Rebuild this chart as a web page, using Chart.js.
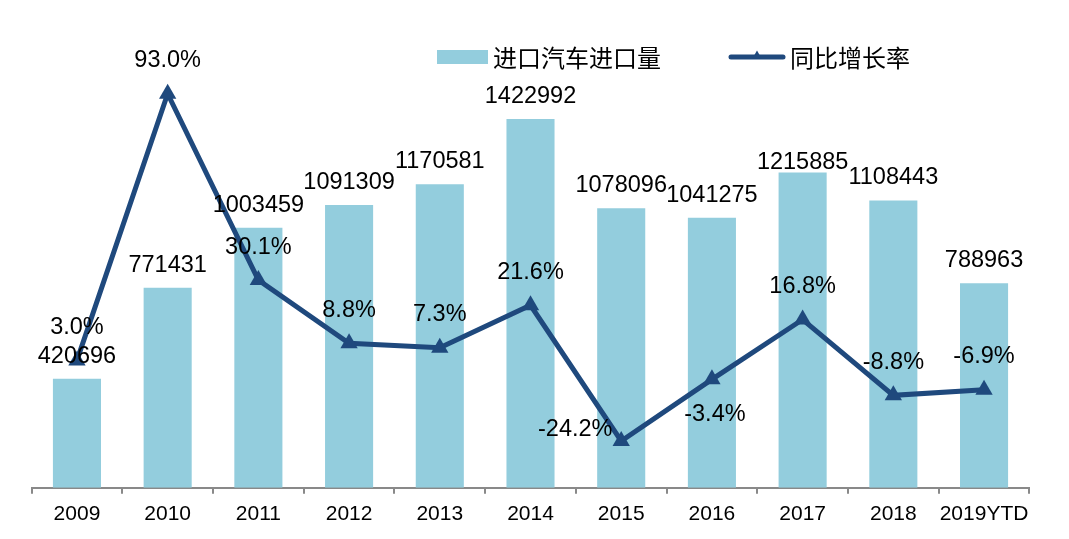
<!DOCTYPE html>
<html><head><meta charset="utf-8">
<script src="https://cdn.jsdelivr.net/npm/chart.js@4/dist/chart.umd.min.js"></script>
<style>html,body{margin:0;padding:0;background:#fff;}</style>
</head><body>
<canvas id="c" width="1069" height="539"></canvas>
<script>
const categories = ['2009','2010','2011','2012','2013','2014','2015','2016','2017','2018','2019YTD'];
const importVolume = [420696, 771431, 1003459, 1091309, 1170581, 1422992, 1078096, 1041275, 1215885, 1108443, 788963];
const yoyGrowth = [3.0, 93.0, 30.1, 8.8, 7.3, 21.6, -24.2, -3.4, 16.8, -8.8, -6.9];
const seriesNames = ['进口汽车进口量', '同比增长率'];

const BAR_COLOR = '#93CDDD';
const LINE_COLOR = '#1F497D';
const LABEL_FONT_SIZE = 23.5;
const LABEL_FONT = LABEL_FONT_SIZE + 'px "Liberation Sans", Arial, sans-serif';
// label placement overrides (by index)
const barLabelDy = {8: -12};
const lineLabelPos = {6: 'left', 7: 'below'};

function drawText(ctx, text, x, cy) {
  // cy = visual centre of digits
  ctx.fillText(text, x, cy + 0.358 * LABEL_FONT_SIZE);
}

const labelPlugin = {
  id: 'valueLabels',
  afterDatasetsDraw(chart) {
    const ctx = chart.ctx;
    ctx.save();
    ctx.font = LABEL_FONT;
    ctx.fillStyle = '#000';
    ctx.textAlign = 'center';
    ctx.textBaseline = 'alphabetic';
    chart.getDatasetMeta(0).data.forEach((el, i) => {
      const dy = (barLabelDy[i] !== undefined) ? barLabelDy[i] : -24.5;
      drawText(ctx, String(importVolume[i]), el.x, el.y + dy);
    });
    chart.getDatasetMeta(1).data.forEach((el, i) => {
      const pos = lineLabelPos[i] || 'above';
      let x = el.x, y = el.y - 35;
      if (pos === 'left') { x = el.x - 46; y = el.y - 13; }
      if (pos === 'below') { x = el.x + 3; y = el.y + 33; }
      drawText(ctx, yoyGrowth[i].toFixed(1) + '%', x, y);
    });
    ctx.restore();
  },
  afterDraw(chart) {
    const ctx = chart.ctx;
    ctx.save();
    // bar legend
    ctx.fillStyle = BAR_COLOR;
    ctx.fillRect(437, 50, 51, 14);
    ctx.fillStyle = '#000';
    ctx.font = '24px "Noto Sans CJK SC", sans-serif';
    ctx.textAlign = 'left';
    ctx.textBaseline = 'middle';
    ctx.fillText(seriesNames[0], 493, 58);
    // line legend
    ctx.strokeStyle = LINE_COLOR;
    ctx.lineWidth = 5;
    ctx.lineCap = 'round';
    ctx.beginPath();
    ctx.moveTo(731, 57);
    ctx.lineTo(783, 57);
    ctx.stroke();
    ctx.fillStyle = LINE_COLOR;
    const r = 5.5, cx = 757, cy = 56;
    ctx.beginPath();
    ctx.moveTo(cx, cy - r);
    ctx.lineTo(cx + Math.sin(2*Math.PI/3) * r, cy + r/2);
    ctx.lineTo(cx - Math.sin(2*Math.PI/3) * r, cy + r/2);
    ctx.closePath();
    ctx.fill();
    ctx.fillStyle = '#000';
    ctx.fillText(seriesNames[1], 790, 58);
    ctx.restore();
  }
};

new Chart(document.getElementById('c'), {
  data: {
    labels: categories,
    datasets: [
      {
        type: 'bar',
        label: seriesNames[0],
        data: importVolume,
        backgroundColor: BAR_COLOR,
        borderWidth: 0,
        categoryPercentage: 1,
        barPercentage: 0.53,
        yAxisID: 'y',
        order: 1
      },
      {
        type: 'line',
        label: seriesNames[1],
        data: yoyGrowth,
        borderColor: LINE_COLOR,
        backgroundColor: LINE_COLOR,
        borderWidth: 5,
        tension: 0,
        pointStyle: 'triangle',
        pointRadius: 10,
        pointBorderWidth: 0,
        pointBackgroundColor: LINE_COLOR,
        pointHoverRadius: 10,
        yAxisID: 'y1',
        clip: false,
        order: 0
      }
    ]
  },
  options: {
    responsive: false,
    animation: false,
    devicePixelRatio: 1,
    layout: { padding: { left: 31.6, right: 39.6, top: 73, bottom: 4 } },
    plugins: { legend: { display: false }, tooltip: { enabled: false } },
    scales: {
      x: {
        offset: true,
        grid: { offset: true, display: true, drawOnChartArea: false, drawTicks: true, tickLength: 6, color: '#898989', lineWidth: 2 },
        border: { display: true, color: '#898989', width: 2 },
        ticks: { color: '#000', font: { family: '"Liberation Sans", Arial, sans-serif', size: 21 }, padding: 8, maxRotation: 0, autoSkip: false }
      },
      y: { display: false, min: 0, max: 1600000 },
      y1: { display: false, min: -40, max: 100 }
    }
  },
  plugins: [labelPlugin]
});
</script>
</body></html>
